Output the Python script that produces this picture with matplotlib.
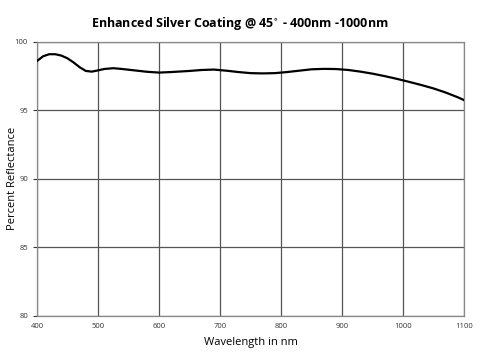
import matplotlib
matplotlib.use("Agg")
import matplotlib.pyplot as plt

wavelength = [400, 410, 420, 430, 440, 450, 460, 470, 480, 490, 500, 510, 525, 540, 560,
              580, 600, 620, 650, 670, 690, 710, 730, 750, 770, 790, 810, 830, 850, 870,
              890, 910, 930, 950, 970, 990, 1010, 1030, 1050, 1070, 1090, 1100]
reflectance = [98.6, 98.95, 99.1, 99.1, 99.0, 98.8, 98.5, 98.15, 97.88, 97.83, 97.92, 98.02, 98.08, 98.02, 97.92,
               97.82, 97.76, 97.8, 97.88, 97.95, 97.98, 97.9, 97.8, 97.72, 97.7, 97.72, 97.8, 97.9, 98.0, 98.03,
               98.02, 97.95, 97.83, 97.68, 97.5, 97.3, 97.08, 96.85, 96.6, 96.3, 95.95, 95.75]

xticks = [400, 500, 600, 700, 800, 900, 1000, 1100]
yticks = [80, 85, 90, 95, 100]

plt.rcParams['font.family'] = ['Open Sans', 'DejaVu Sans']

fig = plt.figure(figsize=(4.8, 3.55), dpi=100)
ax = fig.add_axes([0.077, 0.11, 0.890, 0.772])
ax.plot(wavelength, reflectance, color='black', lw=1.6, zorder=3)
ax.set_xlim(400, 1100)
ax.set_ylim(80, 100)
ax.set_xticks(xticks)
ax.set_yticks(yticks)
ax.grid(True, color='#555555', lw=0.9)
for s in ax.spines.values():
    s.set_color('#888888')
    s.set_linewidth(0.9)
ax.tick_params(axis='both', labelsize=5.5, colors='#333333', length=3, width=0.8)
ax.tick_params(axis='x', length=0, pad=5)
ax.set_xlabel('Wavelength in nm', fontsize=8, labelpad=5)
ax.set_ylabel('Percent Reflectance', fontsize=8)
ax.yaxis.set_label_coords(-0.045, 0.5)
fig.text(0.5, 0.935, 'Enhanced Silver Coating @ 45$^{\\circ}$ - 400nm -1000nm', ha='center', va='center',
         fontsize=9, fontweight='bold')
fig.savefig('out.png', dpi=100)
